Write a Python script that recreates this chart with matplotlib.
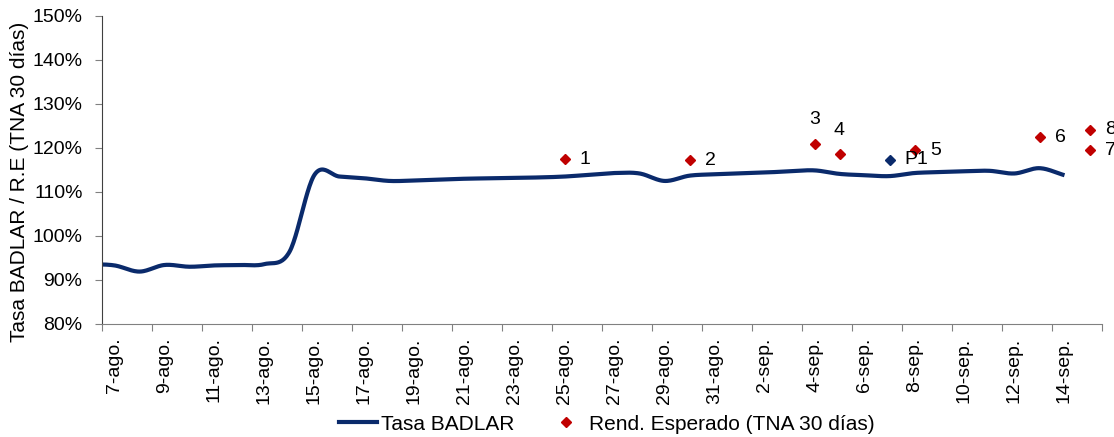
import numpy as np
import matplotlib
matplotlib.use("Agg")
import matplotlib.pyplot as plt
from matplotlib.lines import Line2D

plt.rcParams['font.family'] = ['Liberation Sans', 'DejaVu Sans']

# --- data ---
# calendar days on the axis (6-ago only feeds the clipped start of the line)
days = [f"{d}-ago." for d in range(6, 32)] + [f"{d}-sep." for d in range(1, 16)]

# Tasa BADLAR, 6-ago .. 14-sep (%)
badlar = [93.5, 93.2, 91.8, 93.3, 92.9, 93.2, 93.3, 93.5, 96.3, 113.8,
          113.4, 113.0, 112.4, 112.5, 112.7, 112.9, 113.0, 113.1, 113.2, 113.4,
          113.8, 114.2, 114.1, 112.4, 113.6, 113.9, 114.1, 114.3, 114.6, 114.8,
          114.0, 113.7, 113.5, 114.2, 114.4, 114.6, 114.7, 114.1, 115.3, 113.7]

# Rend. Esperado (TNA 30 dias)
rend_days = ["25-ago.", "30-ago.", "4-sep.", "5-sep.", "8-sep.", "13-sep.", "15-sep.", "15-sep."]
rend_vals = [117.3, 117.1, 120.9, 118.5, 119.4, 122.3, 119.4, 124.0]
rend_lbls = ["1", "2", "3", "4", "5", "6", "7", "8"]

p1_day, p1_val, p1_lbl = "7-sep.", 117.2, "P1"

NAVY = "#0A2A6B"
RED = "#C00000"
FS = 14


def smooth(y, n=25):
    # Excel-style smoothed line (Catmull-Rom)
    y = np.asarray(y, float)
    k = len(y)
    m = np.zeros(k)
    m[1:-1] = (y[2:] - y[:-2]) / 2
    m[0], m[-1] = y[1] - y[0], y[-1] - y[-2]
    xs, ys = [], []
    t = np.linspace(0, 1, n, endpoint=False)
    for i in range(k - 1):
        h00 = 2 * t**3 - 3 * t**2 + 1
        h10 = t**3 - 2 * t**2 + t
        h01 = -2 * t**3 + 3 * t**2
        h11 = t**3 - t**2
        xs.append(i + t)
        ys.append(h00 * y[i] + h10 * m[i] + h01 * y[i + 1] + h11 * m[i + 1])
    xs.append([k - 1])
    ys.append([y[-1]])
    return np.concatenate(xs), np.concatenate(ys)


pos = {d: i for i, d in enumerate(days)}

fig = plt.figure(figsize=(11.14, 4.37), dpi=100)
ax = fig.add_axes([102 / 1114, 1 - 323.5 / 437, 1000 / 1114, 308 / 437])

lx, ly = smooth(badlar)
ax.plot(lx, ly, color=NAVY, lw=3, solid_capstyle="butt")

rx = [pos[d] for d in rend_days]
ax.plot(rx, rend_vals, "D", color=RED, ms=5.5, clip_on=False)
ax.plot([pos[p1_day]], [p1_val], "D", color=NAVY, ms=5.5, clip_on=False)

for x, v, t in zip(rx, rend_vals, rend_lbls):
    if t in ("3", "4"):
        ax.annotate(t, (x, v), xytext=(0, 17), textcoords="offset points",
                    ha="center", va="center", fontsize=FS, annotation_clip=False)
    else:
        ax.annotate(t, (x, v), xytext=(11, 0), textcoords="offset points",
                    ha="left", va="center", fontsize=FS, annotation_clip=False)
ax.annotate(p1_lbl, (pos[p1_day], p1_val), xytext=(11, 0), textcoords="offset points",
            ha="left", va="center", fontsize=FS)

ax.set_xlim(0.5, len(days) - 0.5)
ax.set_ylim(80, 150)
ax.set_yticks(range(80, 151, 10))
ax.set_yticklabels([f"{v}%" for v in range(80, 151, 10)], fontsize=FS)

ax.set_xticks(np.arange(0.5, len(days), 2))
ax.set_xticklabels([])
lab_idx = list(range(1, len(days) - 1, 2))
ax.set_xticks(lab_idx, minor=True)
ax.set_xticklabels([days[i] for i in lab_idx], minor=True, rotation=90, fontsize=FS)
ax.tick_params(axis="x", which="major", length=5, color="#808080", direction="out")
ax.tick_params(axis="x", which="minor", length=0, pad=10)
ax.tick_params(axis="y", length=5, color="#808080", pad=9)

for s in ("top", "right"):
    ax.spines[s].set_visible(False)
ax.spines["left"].set_color("#404040")
ax.spines["bottom"].set_color("#808080")

fig.text(20 / 1114, 1 - 182 / 437, "Tasa BADLAR / R.E (TNA 30 días)", rotation=90,
         ha="center", va="center", fontsize=15)

handles = [Line2D([], [], color=NAVY, lw=3),
           Line2D([], [], marker="D", ls="none", color=RED, ms=5.5)]
fig.legend(handles, ["Tasa BADLAR", "Rend. Esperado (TNA 30 días)"], loc="center",
           bbox_to_anchor=(0.545, 1 - 424 / 437), ncol=2, frameon=False, fontsize=15,
           handlelength=1.8, handletextpad=0.2, columnspacing=1.6)

fig.savefig("out.png", dpi=100)
